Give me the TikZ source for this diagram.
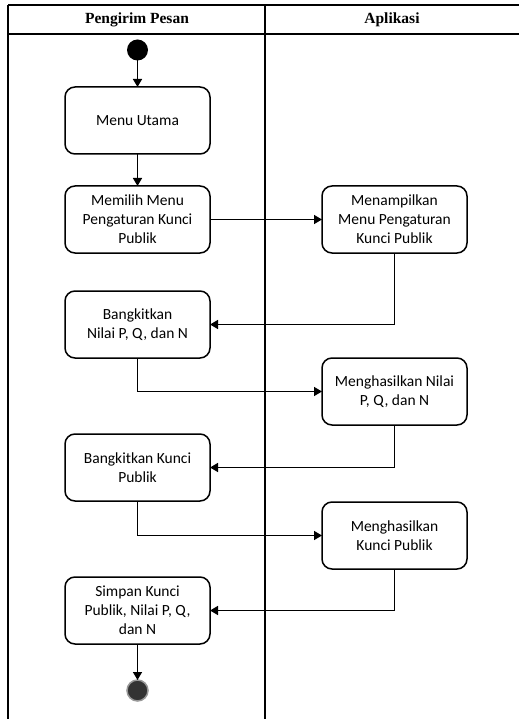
\documentclass[tikz,border=0pt]{standalone}
\usepackage{fontspec}
\setmainfont{Liberation Serif}
\newfontfamily\boxfont{Carlito}
\usetikzlibrary{positioning,arrows.meta}

\begin{document}
\begin{tikzpicture}[x=1pt,y=-1pt,>={Triangle[length=8pt,width=9pt]},line width=1.5pt,
      act node/.style={rectangle,rounded corners=10pt,draw,minimum width=145pt,minimum height=67pt,
        align=center,inner sep=2pt,outer sep=0pt,font=\boxfont\fontsize{15.5}{19}\selectfont},
      start node/.style={circle,fill=black,minimum size=21pt,inner sep=0pt,outer sep=0pt},
      end node/.style={circle,fill=black!80,draw=black!40,line width=1.5pt,minimum size=21pt,inner sep=0pt,outer sep=0pt},
      lane title/.style={font=\bfseries\fontsize{15.5}{18}\selectfont}]
      \useasboundingbox (0,0) rectangle (519,719);

      % swimlanes
      \draw[line width=1.7pt] (8,5) -- (519,5) (8,34) -- (519,34);
      \draw[line width=1.7pt] (8,5) -- (8,719) (265,5) -- (265,719);
      \node[lane title] (lane1) at (137,20) {Pengirim Pesan};
      \node[lane title] (lane2) at (392,20) {Aplikasi};

      \node[start node] (start) at (137.5,50) {};
      \node[act node] (utama) [below=26.5pt of start] {Menu Utama};
      \node[act node] (memilih) [below=32pt of utama] {Memilih Menu\\Pengaturan Kunci\\Publik};
      \node[act node] (tampil) [right=112pt of memilih] {Menampilkan\\Menu Pengaturan\\Kunci Publik};
      \node[act node] (bangkit) [below=38pt of memilih] {Bangkitkan\\Nilai P, Q, dan N};
      \node[act node] (hasilnilai) [below=105pt of tampil] {Menghasilkan Nilai\\P, Q, dan N};
      \node[act node] (bkunci) [below=76pt of bangkit] {Bangkitkan Kunci\\Publik};
      \node[act node] (hasilkunci) [below=77pt of hasilnilai] {Menghasilkan\\Kunci Publik};
      \node[act node] (simpan) [below=76pt of bkunci] {Simpan Kunci\\Publik, Nilai P, Q,\\dan N};
      \node[end node] (end) [below=36pt of simpan] {};

      \path[->]
        (start) edge (utama)
        (utama) edge (memilih)
        (memilih) edge (tampil)
        (simpan) edge (end);
      \draw[->] (tampil) |- (bangkit);
      \draw[->] (bangkit) |- (hasilnilai);
      \draw[->] (hasilnilai) |- (bkunci);
      \draw[->] (bkunci) |- (hasilkunci);
      \draw[->] (hasilkunci) |- (simpan);
    \end{tikzpicture}
\end{document}
